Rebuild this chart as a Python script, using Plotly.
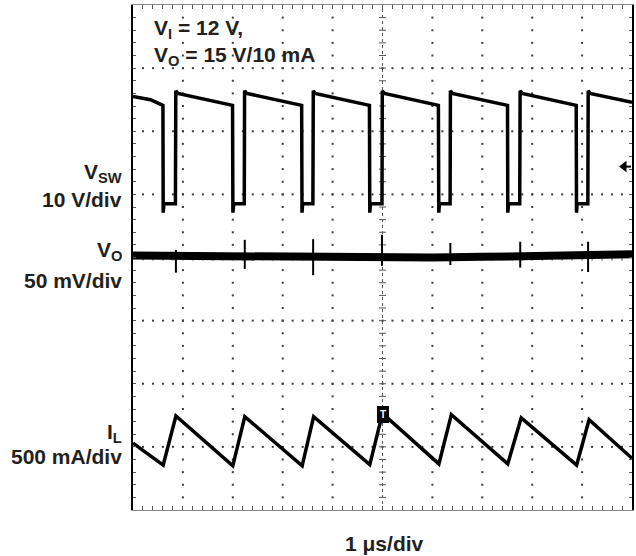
import numpy as np
import plotly.graph_objects as go

# ---------------- data (scope divisions: x = 1 us/div over 10 div, y = 8 div) ----------------
# V_SW switch-node trace (10 V/div)
vsw_t = [0.00, 0.35, 0.600,
         0.605, 0.62, 0.850, 0.858, 0.90, 1.35, 1.995,
         2.002, 2.02, 2.230, 2.236, 2.28, 2.75, 3.380,
         3.387, 3.40, 3.605, 3.613, 3.65, 4.12, 4.738,
         4.745, 4.76, 4.990, 4.996, 5.04, 5.50, 6.120,
         6.128, 6.14, 6.355, 6.361, 6.40, 6.88, 7.505,
         7.511, 7.525, 7.750, 7.758, 7.80, 8.25, 8.882,
         8.888, 8.90, 9.115, 9.122, 9.16, 9.60, 10.00]
vsw_v = [6.55, 6.50, 6.41,
         4.71, 4.85, 4.85, 6.64, 6.60, 6.52, 6.41,
         4.71, 4.85, 4.85, 6.64, 6.60, 6.52, 6.41,
         4.71, 4.85, 4.85, 6.64, 6.60, 6.52, 6.41,
         4.71, 4.85, 4.85, 6.64, 6.60, 6.52, 6.41,
         4.71, 4.85, 4.85, 6.64, 6.60, 6.52, 6.41,
         4.71, 4.85, 4.85, 6.64, 6.60, 6.52, 6.41,
         4.71, 4.85, 4.85, 6.64, 6.60, 6.52, 6.46]

# V_O output ripple trace (50 mV/div)
vo_t = [0.0, 1.0, 2.0, 3.0, 4.0, 5.0, 6.0, 7.0, 8.0, 9.0, 10.0]
vo_v = [4.03, 4.02, 4.01, 4.00, 4.00, 3.99, 4.00, 4.01, 4.03, 4.04, 4.05]
# switching spikes on V_O
spk_t = [0.86, 2.24, 3.61, 4.99, 6.36, 7.76, 9.12]
spk_lo = [3.76, 3.82, 3.72, 3.87, 3.88, 3.84, 3.77]
spk_hi = [4.12, 4.28, 4.29, 4.36, 4.23, 4.25, 4.25]

# I_L inductor current trace (500 mA/div)
il_t = [0.00, 0.605, 0.86, 2.00, 2.24, 3.39, 3.62, 4.745, 5.00, 6.13, 6.38, 7.51, 7.78, 8.89, 9.14, 10.00]
il_v = [1.06, 0.71, 1.49, 0.70, 1.48, 0.70, 1.48, 0.72, 1.53, 0.73, 1.51, 0.73, 1.46, 0.71, 1.43, 0.82]

# text
label_vsw = ["V<sub>SW</sub>", "10 V/div"]
label_vo = ["V<sub>O</sub>", "50 mV/div"]
label_il = ["I<sub>L</sub>", "500 mA/div"]
cond_lines = ["V<sub>I</sub> = 12 V,", "V<sub>O</sub> = 15 V/10 mA"]
x_label = "1 μs/div"

# ---------------- figure ----------------
fig = go.Figure()
GRID = "#3c3c3c"
TXT = "#231f20"

# dotted graticule
gx, gy = [], []
for yy in range(1, 8):
    if yy == 4:
        continue
    for xx in np.arange(0.2, 10.0, 0.2):
        gx.append(xx); gy.append(yy)
for xx in range(1, 10):
    if xx == 5:
        continue
    for yy in np.arange(0.2, 8.0, 0.2):
        gx.append(xx); gy.append(yy)
fig.add_trace(go.Scatter(x=gx, y=gy, mode="markers", hoverinfo="skip",
                         marker=dict(symbol="square", size=2, color=GRID, line=dict(width=0))))

# centre crosshair
fig.add_trace(go.Scatter(x=[5, 5], y=[0, 8], mode="lines", hoverinfo="skip",
                         line=dict(color="#555", width=1, dash="dot")))
fig.add_trace(go.Scatter(x=[0, 10], y=[4, 4], mode="lines", hoverinfo="skip",
                         line=dict(color="#555", width=1, dash="dot")))
cx, cy = [], []
for yy in np.arange(0.2, 8.0, 0.2):
    cx += [4.93, 5.07, None]; cy += [yy, yy, None]
for xx in np.arange(0.2, 10.0, 0.2):
    cx += [xx, xx, None]; cy += [3.95, 4.05, None]
fig.add_trace(go.Scatter(x=cx, y=cy, mode="lines", hoverinfo="skip",
                         line=dict(color="#555", width=1)))

# traces
fig.add_trace(go.Scatter(x=vsw_t, y=vsw_v, mode="lines", hoverinfo="skip",
                         line=dict(color="black", width=3.5)))
fig.add_trace(go.Scatter(x=vo_t, y=vo_v, mode="lines", hoverinfo="skip",
                         line=dict(color="black", width=8)))
sx, sy = [], []
for t, lo, hi in zip(spk_t, spk_lo, spk_hi):
    sx += [t, t, None]; sy += [lo, hi, None]
fig.add_trace(go.Scatter(x=sx, y=sy, mode="lines", hoverinfo="skip",
                         line=dict(color="black", width=2)))
fig.add_trace(go.Scatter(x=il_t, y=il_v, mode="lines", hoverinfo="skip",
                         line=dict(color="black", width=3.5)))

# trigger level arrow on right edge
fig.add_trace(go.Scatter(x=[9.88, 9.98], y=[5.44, 5.44], mode="lines", hoverinfo="skip",
                         line=dict(color="black", width=2)))
fig.add_trace(go.Scatter(x=[9.84], y=[5.44], mode="markers", hoverinfo="skip",
                         marker=dict(symbol="triangle-left", size=10, color="black")))

# trigger position marker
fig.add_annotation(x=5.0, y=1.52, xref="x", yref="y", text="<b>T</b>", showarrow=False,
                   font=dict(size=10, color="white"), bgcolor="black", bordercolor="black",
                   borderpad=2)

F = dict(family="Liberation Sans, Arial, sans-serif", size=21, color=TXT)
PL, PW, PB, PH = 133.0, 501.0, 510.0, 505.0   # plot-area pixel frame

def lab(px, py, text, xa="right"):
    # px, py: pixel position of anchor; converted to paper fractions
    fig.add_annotation(x=(px - PL) / PW, y=(PB - py) / PH, xref="paper", yref="paper",
                       text="<b>" + text + "</b>", showarrow=False,
                       xanchor=xa, yanchor="middle", font=F)

lab(124, 173, label_vsw[0])
lab(124, 199, label_vsw[1])
lab(124, 251, label_vo[0])
lab(124, 280, label_vo[1])
lab(124, 433, label_il[0])
lab(124, 456, label_il[1])
lab(152, 29, cond_lines[0], "left")
lab(152, 56, cond_lines[1], "left")
lab(386, 543, x_label, "center")

fig.update_xaxes(range=[0, 10], showgrid=False, zeroline=False, showticklabels=False,
                 showline=True, linecolor="#8a8a8a", linewidth=1, mirror="ticks",
                 ticks="inside", tickmode="linear", tick0=0, dtick=0.2, ticklen=4,
                 tickcolor="#555", tickwidth=1)
fig.update_yaxes(range=[0, 8], showgrid=False, zeroline=False, showticklabels=False,
                 showline=True, linecolor="black", linewidth=2, mirror="ticks",
                 ticks="inside", tickmode="linear", tick0=0, dtick=0.2, ticklen=3,
                 tickcolor="#555", tickwidth=1)
fig.update_layout(width=636, height=556, margin=dict(l=133, r=2, t=5, b=46),
                  plot_bgcolor="white", paper_bgcolor="white", showlegend=False,
                  font=dict(family="Liberation Sans, Arial, sans-serif", color=TXT))

fig.write_html("out.html")
